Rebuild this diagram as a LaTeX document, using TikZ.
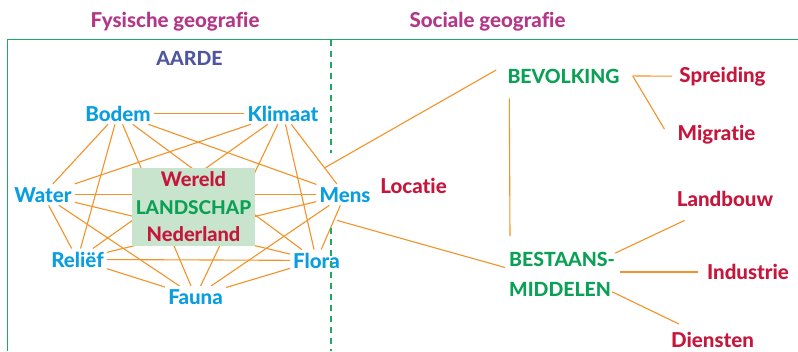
\documentclass[tikz,border=0pt]{standalone}
\usepackage{fontspec}
\setmainfont{Lato}[BoldFont={Lato Heavy}, Ligatures=NoCommon]
\usetikzlibrary{calc}
\definecolor{titlemag}{RGB}{180,55,135}
\definecolor{aarde}{RGB}{80,85,160}
\definecolor{lblue}{RGB}{10,158,224}
\definecolor{lred}{RGB}{198,22,60}
\definecolor{lgreen}{RGB}{10,160,85}
\definecolor{framegreen}{RGB}{30,170,95}
\definecolor{boxfill}{RGB}{200,228,204}
\definecolor{lorange}{RGB}{243,146,40}
\begin{document}
\begin{tikzpicture}[x=1pt,y=-1pt,
  every node/.style={font=\fontsize{20.5}{24}\selectfont\bfseries, inner sep=3pt, anchor=base},
  caps/.style={font=\fontsize{19.5}{23}\selectfont\bfseries},
  phys/.style={text=lblue},
  soc/.style={text=lred},
  hoofd/.style={text=lgreen, caps},
  titel/.style={text=titlemag},
  link/.style={draw=lorange, line width=1.1pt},
  frame/.style={draw=framegreen, line width=1.2pt},
]
\useasboundingbox (0,0) rectangle (798,351);
% frame
\draw[frame] (798,39.5) -- (7.5,39.5) -- (7.5,351);
\draw[frame, dash pattern=on 6pt off 5pt] (331,39.5) -- (331,153);
% titles
\node[titel] (fys) at (175,27) {Fysische geografie};
\node[titel] (soc) at (487.5,27) {Sociale geografie};
\node[text=aarde, caps] (aarde) at (189.5,65) {AARDE};
% physical factors
\node[phys] (bodem) at (118,121) {Bodem};
\node[phys] (klimaat) at (283,121) {Klimaat};
\node[phys] (water) at (43,202) {Water};
\node[phys] (mens) at (345,202) {Mens};
\node[phys] (relief) at (77.5,267) {Reliëf};
\node[phys] (flora) at (316.5,268) {Flora};
\node[phys] (fauna) at (195.5,304) {Fauna};
\foreach \a/\b in {bodem/klimaat,bodem/water,bodem/relief,bodem/fauna,bodem/flora,bodem/mens,
  klimaat/water,klimaat/relief,klimaat/fauna,klimaat/flora,klimaat/mens,
  water/mens,water/relief,water/flora,water/fauna,
  mens/relief,mens/flora,mens/fauna,
  relief/flora,relief/fauna,flora/fauna}
  \draw[link] (\a) -- (\b);
% landscape box
\node[fill=boxfill, minimum width=123pt, minimum height=78pt, align=center, anchor=center,
  inner sep=0pt, font=\fontsize{20}{27.5}\selectfont\bfseries] (landschap) at (193.5,207)
  {\textcolor{lred}{Wereld}\\\textcolor{lgreen}{\fontsize{19}{27.5}\selectfont LANDSCHAP}\\\textcolor{lred}{Nederland}};
% social side
\node[soc] (locatie) at (413.5,193) {Locatie};
\node[hoofd] (bevolking) at (563.5,83) {BEVOLKING};
\node[soc] (spreiding) at (722.5,82) {Spreiding};
\node[soc] (migratie) at (716.5,140) {Migratie};
\node[hoofd, align=left, anchor=west, font=\fontsize{19.5}{30}\selectfont\bfseries] (bestaans) at (506,274.5) {BESTAANS-\\MIDDELEN};
\node[soc] (landbouw) at (725,206) {Landbouw};
\node[soc] (industrie) at (748,279) {Industrie};
\node[soc] (diensten) at (712.5,347) {Diensten};
\draw[link] ($(mens.north west)+(8,-16)$) -- ($(bevolking.west)+(-8,-6)$);
\draw[link] ($(mens.south)+(-8,15)$) -- ($(bestaans.west)+(-1,-7)$);
\draw[link] ($(bevolking.south west)+(5,12)$) -- ($(bestaans.north west)+(4,-13)$);
\coordinate (bv) at ($(bevolking.east)+(10,0)$);
\draw[link] (bv) -- ($(spreiding.west)+(-4,0)$);
\draw[link] (bv) -- ($(migratie.west)+(-10,-5)$);
\draw[link] ($(bestaans.north east)+(-3,4)$) -- ($(landbouw.south west)+(11,11)$);
\coordinate (bi) at ($(bestaans.east)+(2,-2.5)$);
\draw[link] (bi) -- ($(bi -| industrie.west)+(-6,0)$);
\draw[link] ($(bestaans.south east)+(-6,-8)$) -- ($(diensten.north west)+(11,-4.5)$);
\draw[frame, dash pattern=on 6pt off 5pt] (331,228) -- (331,351);
\end{tikzpicture}
\end{document}
